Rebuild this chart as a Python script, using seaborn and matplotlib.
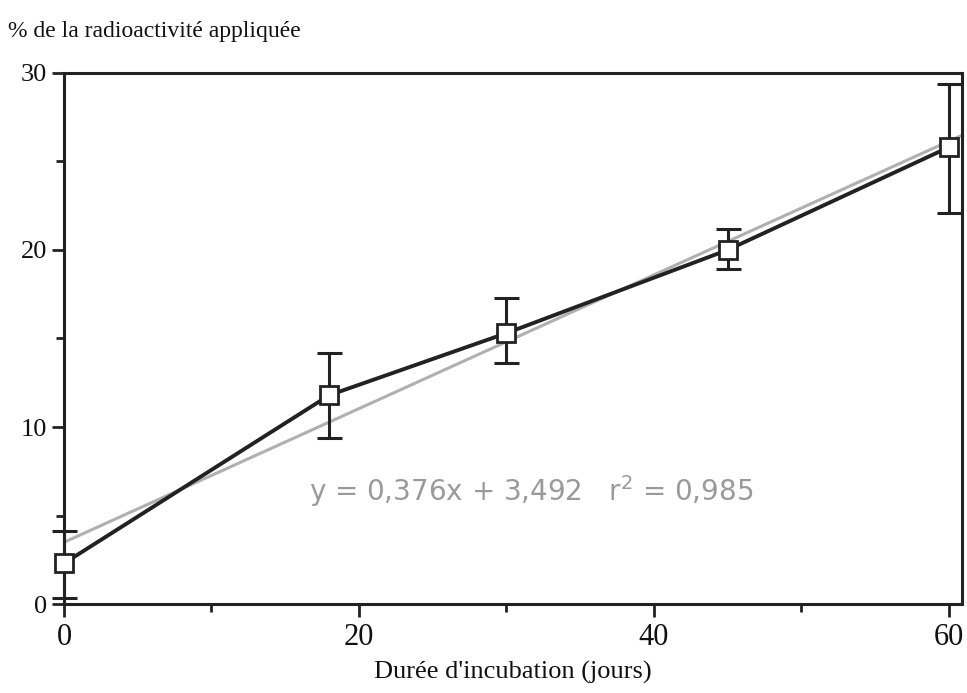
import numpy as np
import pandas as pd
import matplotlib
matplotlib.use("Agg")
import matplotlib.pyplot as plt
import seaborn as sns
from matplotlib.ticker import MultipleLocator

days = [0, 18, 30, 45, 60]
radioactivity = [2.3, 11.8, 15.3, 20.0, 25.8]
err_low = [0.35, 9.4, 13.6, 18.9, 22.1]
err_high = [4.1, 14.2, 17.3, 21.2, 29.4]
x_ticks = [0, 20, 40, 60]
y_ticks = [0, 10, 20, 30]
title = "% de la radioactivité appliquée"
xlabel = "Durée d'incubation (jours)"
equation = "y = 0,376x + 3,492   r$^2$ = 0,985"

df = pd.DataFrame({"days": days, "val": radioactivity})

sns.set_theme(style="ticks")
plt.rcParams["font.family"] = ["Liberation Serif", "DejaVu Serif"]

fig = plt.figure(figsize=(9.67, 6.93), dpi=100)
ax = fig.add_axes([0.0662, 0.1284, 0.9286, 0.7663])
ax.set_xlim(0, 60.9)
ax.set_ylim(0, 30)

# regression line
sns.regplot(data=df, x="days", y="val", ax=ax, scatter=False, ci=None,
            truncate=False, color="#b0b0b0", line_kws={"linewidth": 2.2, "zorder": 2})

# error bars
yerr = np.array([np.array(radioactivity) - np.array(err_low),
                 np.array(err_high) - np.array(radioactivity)])
eb = ax.errorbar(days, radioactivity, yerr=yerr, fmt="none", ecolor="#222222",
                 elinewidth=2.2, capsize=9, capthick=2.2, zorder=3)
for art in eb.get_children():
    art.set_clip_on(False)

sns.lineplot(data=df, x="days", y="val", ax=ax, color="#222222", linewidth=2.8,
             marker="s", markersize=13, markerfacecolor="white",
             markeredgecolor="#222222", markeredgewidth=2, zorder=4, clip_on=False)

ax.set_xlim(0, 60.9)
ax.set_ylim(0, 30)
ax.set_xticks(x_ticks)
ax.set_yticks(y_ticks)
ax.xaxis.set_minor_locator(MultipleLocator(10))
ax.yaxis.set_minor_locator(MultipleLocator(5))
ax.tick_params(axis="both", which="major", direction="out", length=9, width=2,
               color="#222222", labelcolor="#111111")
ax.tick_params(axis="both", which="minor", direction="out", length=6, width=2,
               color="#222222")
ax.tick_params(axis="x", labelsize=22, pad=5)
ax.tick_params(axis="y", labelsize=19, pad=3)
for s in ax.spines.values():
    s.set_linewidth(2.2)
    s.set_color("#222222")
    s.set_visible(True)

ax.set_xlabel(xlabel, fontsize=19, color="#111111", labelpad=6)
ax.set_ylabel("")
fig.text(0.008, 0.955, title, fontsize=17, color="#111111", ha="left", va="center")

ax.text(16.6, 6.4, equation, fontsize=20, color="#9a9a9a",
        family=["DejaVu Sans"], ha="left", va="center")

fig.savefig("out.png", dpi=100)
